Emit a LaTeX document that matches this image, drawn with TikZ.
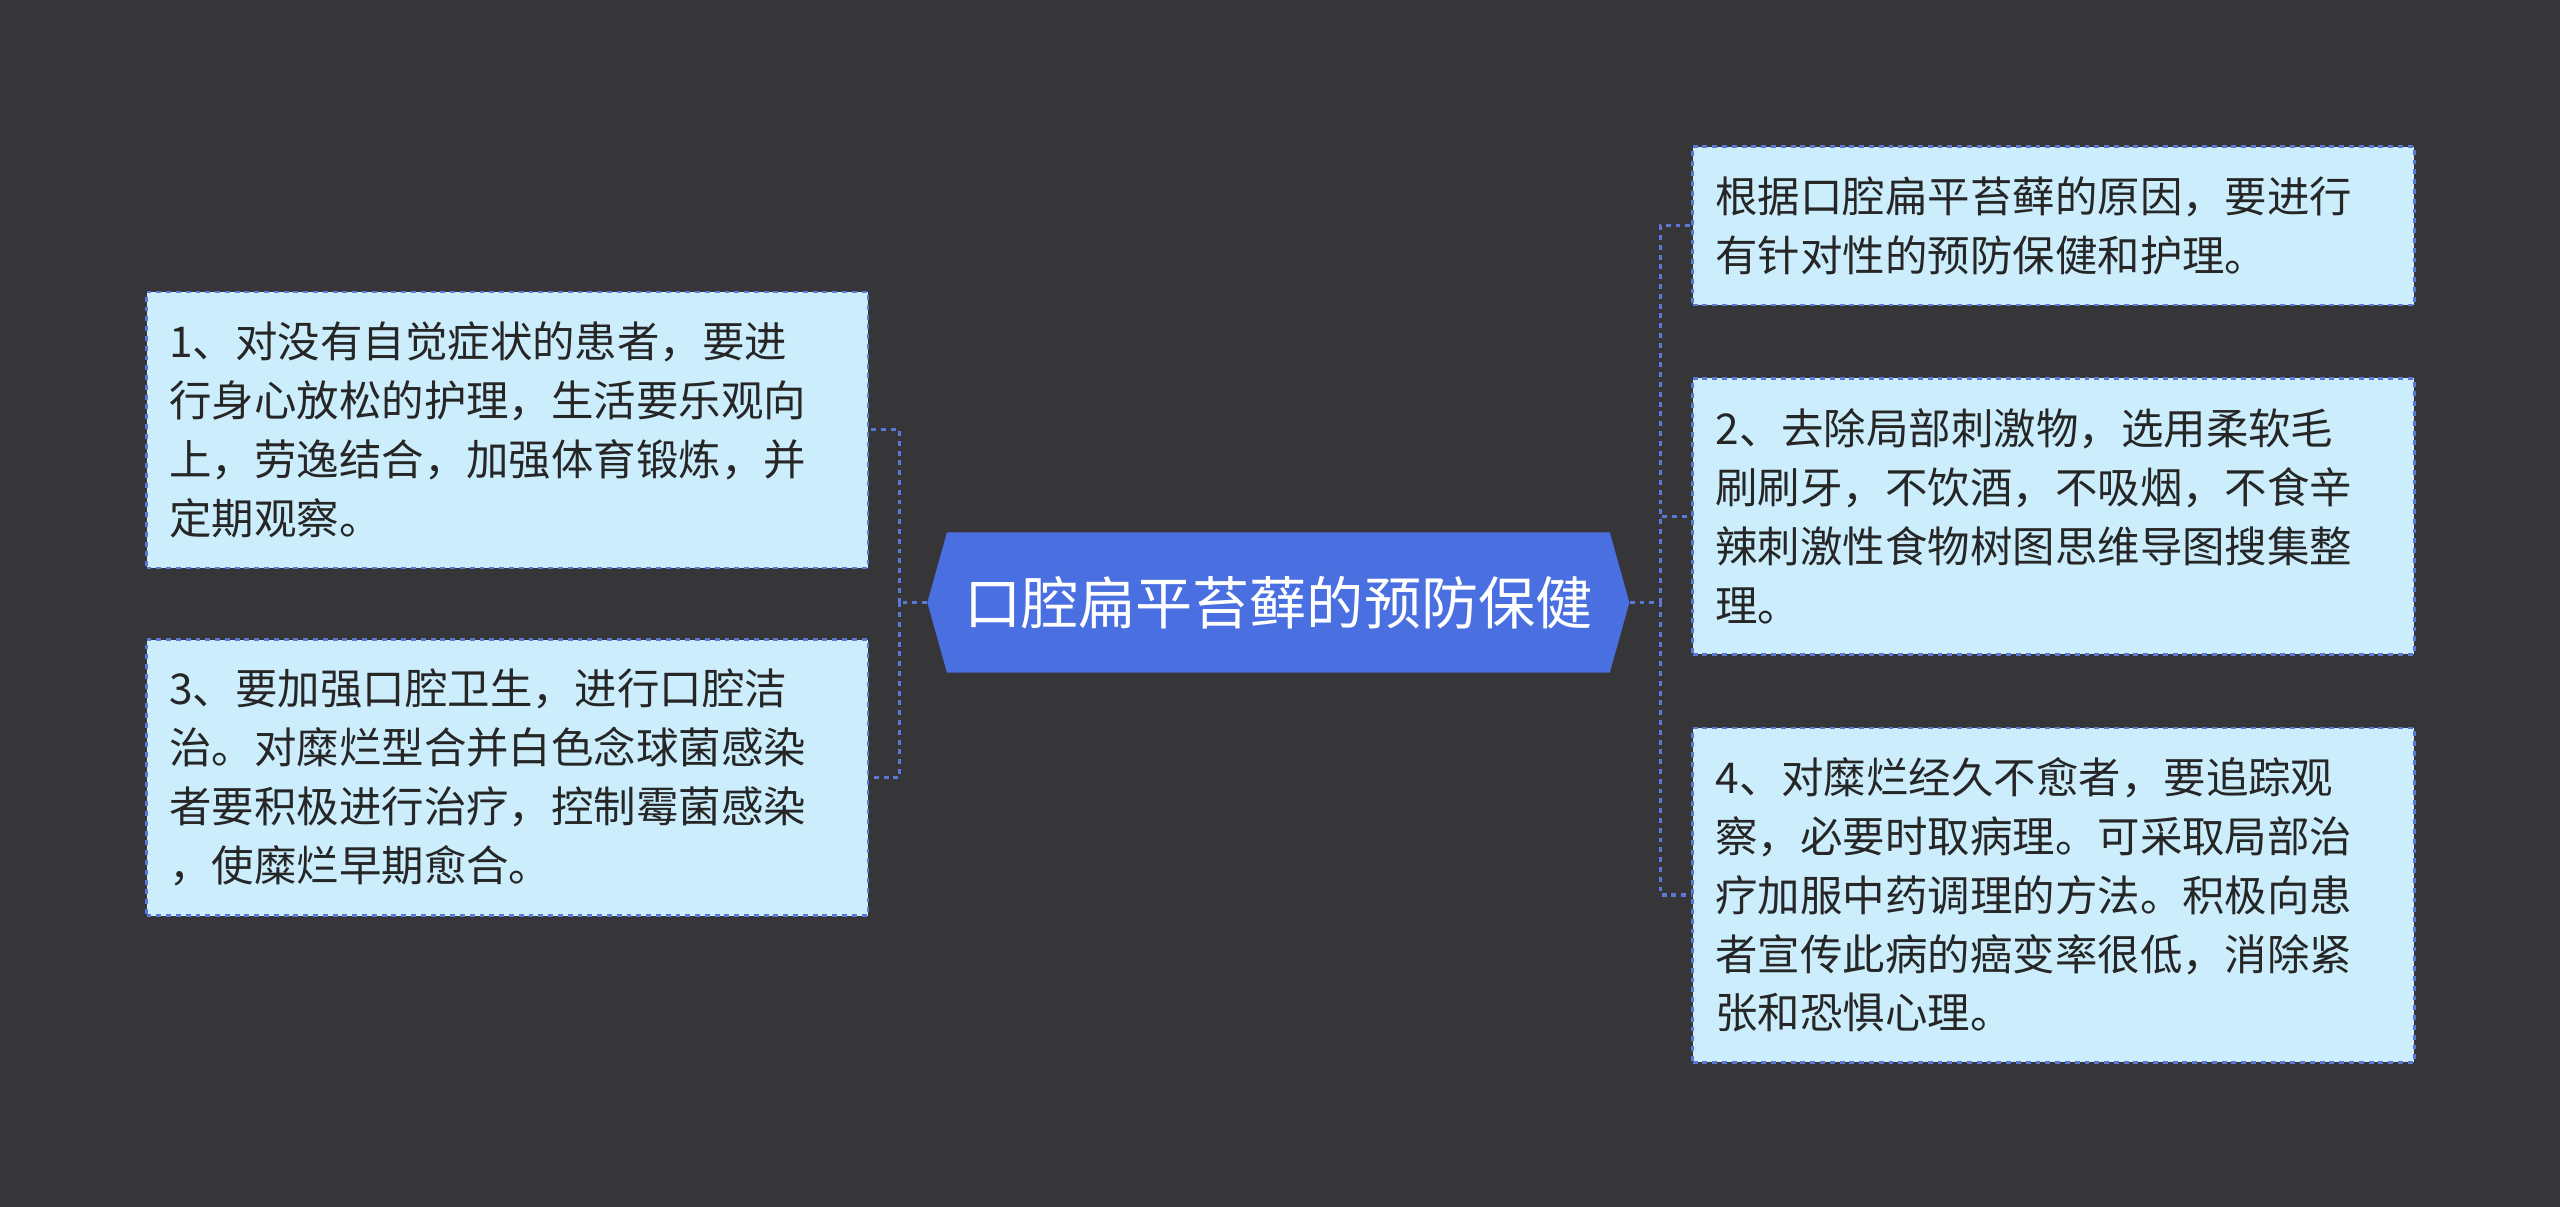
\documentclass[tikz,border=0pt]{standalone}
\usepackage{fontspec}
\setmainfont{Noto Sans CJK SC}
\definecolor{bg}{HTML}{363538}
\definecolor{boxfill}{HTML}{CCEEFC}
\definecolor{lnk}{HTML}{5B78D8}
\definecolor{ctr}{HTML}{4A6FE0}
\tikzset{
 leaf/.style={draw=lnk, dashed, line width=1.5pt, fill=boxfill, minimum width=442pt, text width=420pt, align=left, inner sep=0pt, font=\fontsize{26}{36}\selectfont, text=black!85, anchor=north west},
 con/.style={draw=lnk, dashed, line width=2pt},
}
\begin{document}
\begin{tikzpicture}[x=1pt,y=-1pt]
\fill[bg] (0,0) rectangle (1568,739);
\useasboundingbox (0,0) rectangle (1568,739);
\node[leaf, minimum height=169pt] (l1) at (89,178) {\hspace*{3pt}\parbox[t]{420pt}{1、对没有自觉症状的患者，要进\\行身心放松的护理，生活要乐观向\\上，劳逸结合，加强体育锻炼，并\\定期观察。}};
\node[leaf, minimum height=169pt] (l3) at (89,391) {\hspace*{3pt}\parbox[t]{420pt}{3、要加强口腔卫生，进行口腔洁\\治。对糜烂型合并白色念球菌感染\\者要积极进行治疗，控制霉菌感染\\，使糜烂早期愈合。}};
\node[leaf, minimum height=97pt] (r1) at (1036,89) {\hspace*{3pt}\parbox[t]{420pt}{根据口腔扁平苔藓的原因，要进行\\有针对性的预防保健和护理。}};
\node[leaf, minimum height=169pt] (r2) at (1036,231) {\hspace*{3pt}\parbox[t]{420pt}{2、去除局部刺激物，选用柔软毛\\刷刷牙，不饮酒，不吸烟，不食辛\\辣刺激性食物树图思维导图搜集整\\理。}};
\node[leaf, minimum height=205pt] (r3) at (1036,445) {\hspace*{3pt}\parbox[t]{420pt}{4、对糜烂经久不愈者，要追踪观\\察，必要时取病理。可采取局部治\\疗加服中药调理的方法。积极向患\\者宣传此病的癌变率很低，消除紧\\张和恐惧心理。}};
\node[minimum width=406pt, minimum height=86pt, inner sep=0pt] (c) at (783,369) {};
\fill[ctr] (568,369) -- (580,326) -- (986,326) -- (998,369) -- (986,412) -- (580,412) -- cycle;
\node[font=\fontsize{35}{40}\selectfont, text=white] at (c.center) {口腔扁平苔藓的预防保健};
\coordinate (lj) at (551,369);
\coordinate (rj) at (1017,369);
\draw[con] (c.west) ++(-12,0) -- (lj);
\draw[con] (lj) |- (l1.east);
\draw[con] (lj) |- (l3.east);
\draw[con] (c.east) ++(12,0) -- (rj);
\draw[con] (rj) |- (r1.west);
\draw[con] (rj) |- (r2.west);
\draw[con] (rj) |- (r3.west);
\end{tikzpicture}
\end{document}
